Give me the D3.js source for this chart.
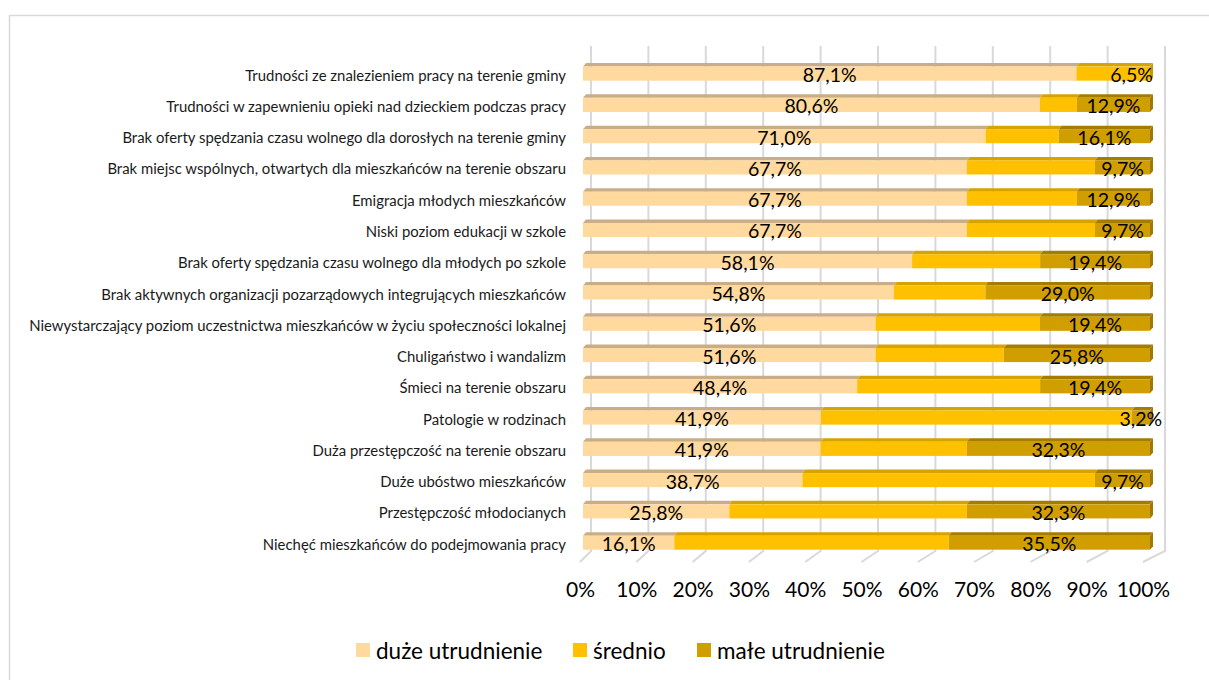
<!DOCTYPE html>
<html lang="pl">
<head>
<meta charset="utf-8">
<script src="https://cdn.jsdelivr.net/npm/d3@7"></script>
<style>
  html, body { margin: 0; padding: 0; background: #fff; }
  svg { display: block; font-family: Lato, "Open Sans", sans-serif; }
</style>
</head>
<body>
<svg id="chart" width="1209" height="680"></svg>
<script>
// Problemy obszaru – ocena stopnia utrudnienia (odsetek odpowiedzi)
const categories = [
  "Trudności ze znalezieniem pracy na terenie gminy",
  "Trudności w zapewnieniu opieki nad dzieckiem podczas pracy",
  "Brak oferty spędzania czasu wolnego dla dorosłych na terenie gminy",
  "Brak miejsc wspólnych, otwartych dla mieszkańców na terenie obszaru",
  "Emigracja młodych mieszkańców",
  "Niski poziom edukacji w szkole",
  "Brak oferty spędzania czasu wolnego dla młodych po szkole",
  "Brak aktywnych organizacji pozarządowych integrujących mieszkańców",
  "Niewystarczający poziom uczestnictwa mieszkańców w życiu społeczności lokalnej",
  "Chuligaństwo i wandalizm",
  "Śmieci na terenie obszaru",
  "Patologie w rodzinach",
  "Duża przestępczość na terenie obszaru",
  "Duże ubóstwo mieszkańców",
  "Przestępczość młodocianych",
  "Niechęć mieszkańców do podejmowania pracy"
];
const duze    = [87.1, 80.6, 71.0, 67.7, 67.7, 67.7, 58.1, 54.8, 51.6, 51.6, 48.4, 41.9, 41.9, 38.7, 25.8, 16.1];
const srednio = [6.5, 6.5, 12.9, 22.6, 19.4, 22.6, 22.6, 16.1, 29.0, 22.6, 32.3, 54.8, 25.8, 51.6, 41.9, 48.4];
const male    = [6.5, 12.9, 16.1, 9.7, 12.9, 9.7, 19.4, 29.0, 19.4, 25.8, 19.4, 3.2, 32.3, 9.7, 32.3, 35.5];
const seriesNames = ["duże utrudnienie", "średnio", "małe utrudnienie"];
const tickValues = [0, 10, 20, 30, 40, 50, 60, 70, 80, 90, 100];

// ---- appearance ----
const palette = {
  front: ["#FFD99E", "#FFC000", "#D19E00"],
  top:   ["#C9AD86", "#D6A300", "#A47C00"],
  side:  ["#C9AD86", "#C99A00", "#A07800"]
};
// individually formatted data point (first row, last segment)
const pointOverrides = [{ row: 0, series: 2, series_look: 1 }];
const labelledSeries = [0, 2];

const svg = d3.select("#chart");
const keys = ["d", "s", "m"];
const rows = categories.map((c, i) => ({ cat: c, d: duze[i], s: srednio[i], m: male[i] }));
const stacked = d3.stack().keys(keys).offset(d3.stackOffsetExpand)(rows);

// three depths of the 3-D box: floor front edge, bar front face, back wall
const xFloor = d3.scaleLinear().domain([0, 1]).range([580, 1143]);
const xBar   = d3.scaleLinear().domain([0, 1]).range([583, 1150]);
const xBack  = d3.scaleLinear().domain([0, 1]).range([591, 1165]);
const y = d3.scaleBand().domain(categories).range([58, 558.3])
  .paddingInner(0.55).paddingOuter(0.275);

const depth = { dx: 3, dy: 3.5 };
const wallTop = 46, wallBottom = 551, floorFront = 562;

// chart area frame
svg.append("rect").attr("x", 9.5).attr("y", 15.5).attr("width", 1230).attr("height", 700)
  .attr("fill", "#fff").attr("stroke", "#d9d9d9").attr("stroke-width", 1.5);

// gridlines on the back wall and across the floor
const grid = svg.append("g").attr("fill", "none").attr("stroke", "#d9d9d9").attr("stroke-width", 2);
grid.selectAll("path").data(tickValues).join("path")
  .attr("d", v => {
    const t = v / 100;
    return `M${xBack(t)},${wallTop}L${xBack(t)},${wallBottom}L${xFloor(t)},${floorFront}`;
  });

// bars: top face, front face and the right-hand end face
const lookOf = (row, si) => {
  const o = pointOverrides.find(p => p.row === row && p.series === si);
  return o ? o.series_look : si;
};
const bars = svg.append("g");
stacked.forEach((layer, si) => {
  layer.forEach((seg, ri) => {
    const x0 = xBar(seg[0]), x1 = xBar(seg[1]);
    if (x1 - x0 <= 0) return;
    const yt = y(categories[ri]), h = y.bandwidth();
    const look = lookOf(ri, si);
    const g = bars.append("g");
    g.append("path")
      .attr("d", `M${x0},${yt}L${x1},${yt}L${x1 + depth.dx},${yt - depth.dy}L${x0 + depth.dx},${yt - depth.dy}Z`)
      .attr("fill", palette.top[look]);
    g.append("rect").attr("x", x0).attr("y", yt).attr("width", x1 - x0).attr("height", h)
      .attr("fill", palette.front[look]);
    if (si === keys.length - 1) {
      g.append("path")
        .attr("d", `M${x1},${yt}L${x1 + depth.dx},${yt - depth.dy}L${x1 + depth.dx},${yt + h - depth.dy}L${x1},${yt + h}Z`)
        .attr("fill", palette.side[look]);
    }
  });
});

// value labels
const fmt = v => v.toFixed(1).replace(".", ",") + "%";
const rawSeries = [duze, srednio, male];
const labels = svg.append("g").attr("font-size", 19.5).attr("fill", "#000").attr("text-anchor", "middle");
labelledSeries.forEach(si => {
  stacked[si].forEach((seg, ri) => {
    labels.append("text")
      .attr("x", (xBar(seg[0]) + xBar(seg[1])) / 2)
      .attr("y", y(categories[ri]) + y.bandwidth() / 2 + 1)
      .attr("dominant-baseline", "central")
      .text(fmt(rawSeries[si][ri]));
  });
});

// category axis
const cat = svg.append("g").attr("font-size", 14.9).attr("fill", "#1a1a1a").attr("text-anchor", "end");
cat.selectAll("text").data(categories).join("text")
  .attr("x", 566)
  .attr("y", d => y(d) + y.bandwidth() / 2 + 1)
  .attr("dominant-baseline", "central")
  .text(d => d);

// percentage axis along the floor front edge
const axis = d3.axisBottom(xFloor).tickValues(tickValues.map(v => v / 100))
  .tickFormat(d => Math.round(d * 100) + "%").tickSize(0).tickPadding(0);
const ax = svg.append("g").attr("transform", `translate(0,${floorFront + 20})`).call(axis);
ax.select(".domain").remove();
ax.selectAll("text").attr("font-size", 21).attr("font-family", "Lato, sans-serif").attr("fill", "#000");

// legend
const legendX = [356, 573, 697];
const lg = svg.append("g").attr("font-size", 22.5).attr("fill", "#000");
seriesNames.forEach((n, i) => {
  lg.append("rect").attr("x", legendX[i]).attr("y", 643).attr("width", 14).attr("height", 14)
    .attr("fill", palette.front[i]);
  lg.append("text").attr("x", legendX[i] + 20).attr("y", 650).attr("dominant-baseline", "central").text(n);
});
</script>
</body>
</html>
